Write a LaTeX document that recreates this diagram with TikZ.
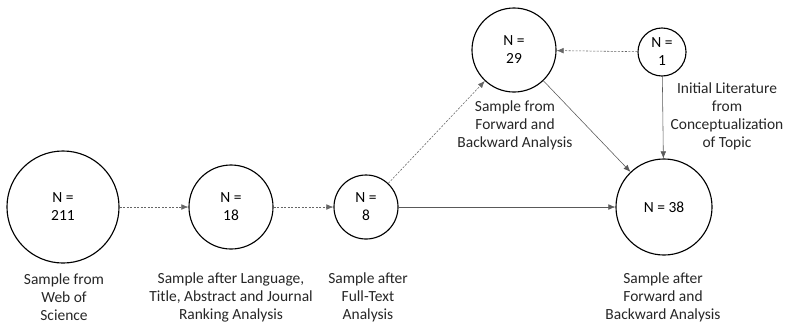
\documentclass[tikz,border=0pt]{standalone}
\usepackage{fontspec}
\setmainfont{Carlito}
\usetikzlibrary{arrows.meta}

\begin{document}
\begin{tikzpicture}[x=0.025cm,y=-0.025cm,>={Latex[length=5pt,width=4pt]},->]
	\tikzstyle{sample}=[circle,draw,thick,align=center,inner sep=0pt,font=\fontsize{11}{12.8}\selectfont]
	\tikzstyle{caption}=[align=center,font=\fontsize{11}{12.8}\selectfont,text=black!85]
	\tikzstyle{dotted flow}=[draw=black!60,dash pattern=on 1.5pt off 1pt]
	\tikzstyle{flow}=[draw=black!65]
	\useasboundingbox (0,0) rectangle (793,325);
	\node[sample,minimum size=2.8cm] (S_wos) at (63,207) {N =\\211};
	\node[sample,minimum size=2.1cm] (S_lang) at (231,207) {N =\\18};
	\node[sample,minimum size=1.6cm] (S_full) at (366,207) {N =\\8};
	\node[sample,minimum size=2.1cm] (S_fb) at (514,50) {N =\\29};
	\node[sample,minimum size=1.2cm] (S_init) at (662,52) {N =\\1};
	\node[sample,minimum size=2.4cm] (S_final) at (664,207) {N = 38};
	\node[caption] (C_wos) at (64,297) {Sample from\\Web of\\Science};
	\node[caption] (C_lang) at (231,297) {Sample after Language,\\Title, Abstract and Journal\\Ranking Analysis};
	\node[caption] (C_full) at (368,297) {Sample after\\Full-Text\\Analysis};
	\node[caption] (C_fb) at (515,125) {Sample from\\Forward and\\Backward Analysis};
	\node[caption] (C_init) at (727,116) {Initial Literature\\from\\Conceptualization\\of Topic};
	\node[caption] (C_final) at (663,297) {Sample after\\Forward and\\Backward Analysis};
	\draw[dotted flow] (S_wos) -- (S_lang);
	\draw[dotted flow] (S_lang) -- (S_full);
	\draw[dotted flow] (S_full) -- (S_fb);
	\draw[dotted flow] (S_init) -- (S_fb);
	\draw[flow] (S_full) -- (S_final);
	\draw[flow] (S_fb) -- (S_final);
	\draw[flow] (S_init) -- (S_final);
\end{tikzpicture}
\end{document}
